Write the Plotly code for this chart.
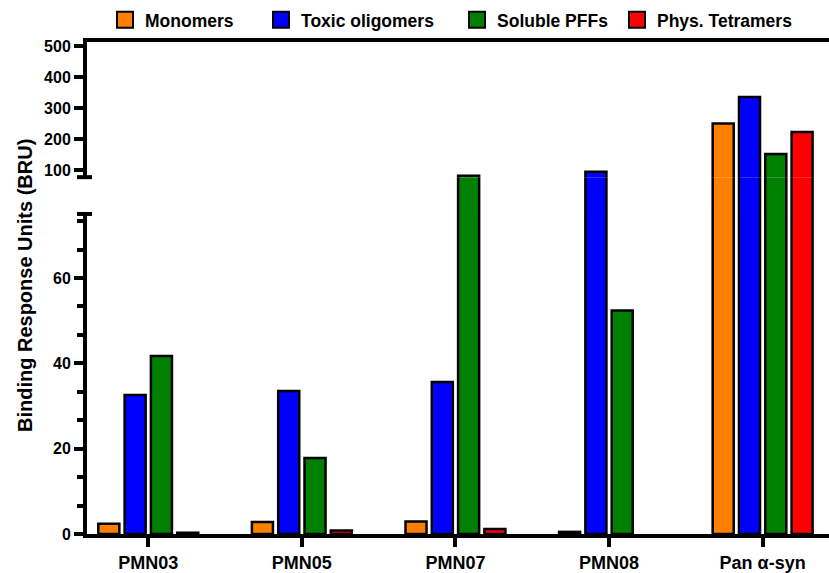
import plotly.graph_objects as go

# ---- data -------------------------------------------------------------
categories = ["PMN03", "PMN05", "PMN07", "PMN08", "Pan α-syn"]
series_names = ["Monomers", "Toxic oligomers", "Soluble PFFs", "Phys. Tetramers"]

monomers = [2.4, 2.8, 2.9, 0.5, 250]
toxic_oligomers = [32.6, 33.5, 35.6, 95, 336]
soluble_pffs = [41.7, 17.8, 82, 52.4, 152]
phys_tetramers = [0.3, 0.8, 1.2, None, 223]

lower_ticks = [0, 20, 40, 60]
upper_ticks = [100, 200, 300, 400, 500]

series_values = [monomers, toxic_oligomers, soluble_pffs, phys_tetramers]
colors = ["#FF8000", "#0000FF", "#008000", "#FF0000"]

# ---- broken-axis geometry ---------------------------------------------
LOWER_RANGE = [0, 75]          # lower segment
GAP_RANGE = [75, 77.6]         # bars pass through the break
UPPER_RANGE = [77.6, 512.8]    # upper segment

LOWER_DOM = [0, 0.6505]
GAP_DOM = [0.6505, 0.7253]
UPPER_DOM = [0.7253, 1]

FONT = "Liberation Sans, Arial, Helvetica, sans-serif"
LW = 4

# one legend box per series, spaced along the top
legend_ids = ["legend", "legend2", "legend3", "legend4"]
legend_x = [0.0243, 0.2345, 0.4987, 0.7143]

fig = go.Figure()

subplots = [("x", "y"), ("x3", "y3"), ("x2", "y2")]
for name, vals, col, lid in zip(series_names, series_values, colors, legend_ids):
    for xa, ya in subplots:
        fig.add_trace(go.Bar(
            x=categories, y=vals, name=name,
            xaxis=xa, yaxis=ya,
            marker=dict(color=col, line=dict(color="black", width=2.5)),
            showlegend=False, legendgroup=name,
        ))
    # legend entry
    fig.add_trace(go.Scatter(
        x=[None], y=[None], mode="markers", name=name, legendgroup=name,
        legend=lid,
        marker=dict(symbol="square", size=16, color=col,
                    line=dict(color="black", width=2)),
    ))

x_range = [-0.399, 4.432]

legend_style = dict(
    orientation="h", xanchor="left", y=1.045, yanchor="middle",
    font=dict(size=17.5, family=FONT, weight="bold"),
    bgcolor="rgba(0,0,0,0)",
)

fig.update_layout(
    width=829, height=573,
    margin=dict(l=87, r=0, t=42, b=36),
    paper_bgcolor="white", plot_bgcolor="white",
    font=dict(family=FONT, color="black"),
    barmode="group", bargap=0.315, bargroupgap=0.2,
    showlegend=True,
    xaxis=dict(
        anchor="y", domain=[0, 1], range=x_range,
        showline=True, linewidth=LW, linecolor="black",
        ticks="outside", ticklen=9, tickwidth=LW, tickcolor="black",
        tickfont=dict(size=18, family=FONT, weight="bold"),
        showgrid=False, zeroline=False,
    ),
    xaxis2=dict(
        anchor="y2", matches="x", side="top",
        showline=True, linewidth=LW, linecolor="black",
        ticks="", showticklabels=False, showgrid=False, zeroline=False,
    ),
    xaxis3=dict(
        anchor="y3", matches="x", visible=False,
    ),
    yaxis=dict(
        anchor="x", domain=LOWER_DOM, range=LOWER_RANGE,
        tickmode="array", tickvals=lower_ticks,
        showline=True, linewidth=LW, linecolor="black",
        ticks="outside", ticklen=9, tickwidth=LW, tickcolor="black",
        minor=dict(ticks="outside", dtick=20 / 3, tick0=0, ticklen=6,
                   tickwidth=LW, tickcolor="black"),
        tickfont=dict(size=16, family=FONT, weight="bold"),
        showgrid=False, zeroline=False,
    ),
    yaxis2=dict(
        anchor="x2", domain=UPPER_DOM, range=UPPER_RANGE,
        tickmode="array", tickvals=upper_ticks,
        showline=True, linewidth=LW, linecolor="black",
        ticks="outside", ticklen=9, tickwidth=LW, tickcolor="black",
        tickfont=dict(size=16, family=FONT, weight="bold"),
        showgrid=False, zeroline=False,
    ),
    yaxis3=dict(
        anchor="x3", domain=GAP_DOM, range=GAP_RANGE, visible=False,
    ),
)

for lid, lx in zip(legend_ids, legend_x):
    fig.update_layout({lid: dict(legend_style, x=lx)})

# end caps marking the axis break
for anchor in (LOWER_DOM[1], UPPER_DOM[0]):
    fig.add_shape(
        type="line", xref="paper", yref="paper",
        xsizemode="pixel", ysizemode="pixel",
        xanchor=0, yanchor=anchor,
        x0=-10, x1=5, y0=0, y1=0,
        line=dict(color="black", width=LW),
    )

fig.add_annotation(
    text="Binding Response Units (BRU)", textangle=-90,
    xref="paper", yref="paper", x=-0.0836, y=0.506,
    xanchor="center", yanchor="middle", showarrow=False,
    font=dict(size=20, family=FONT, weight="bold"),
)

fig.write_html("out.html")
